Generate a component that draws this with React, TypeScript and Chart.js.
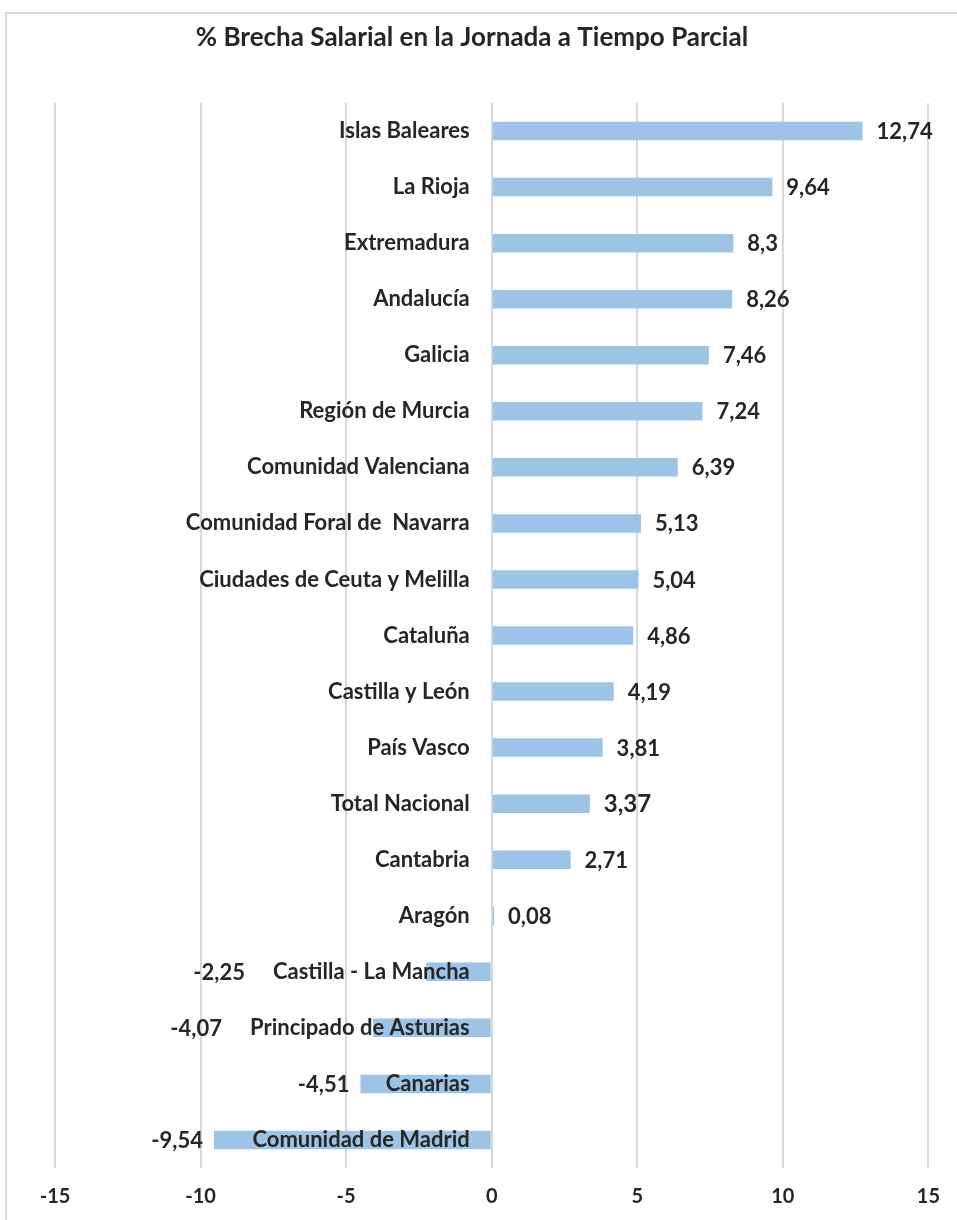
import React, { useEffect, useRef } from "react";
import { Chart, registerables } from "chart.js";

Chart.register(...registerables);

const TITLE = "% Brecha Salarial en la Jornada a Tiempo Parcial";
const categories = [
  "Islas Baleares",
  "La Rioja",
  "Extremadura",
  "Andalucía",
  "Galicia",
  "Región de Murcia",
  "Comunidad Valenciana",
  "Comunidad Foral de  Navarra",
  "Ciudades de Ceuta y Melilla",
  "Cataluña",
  "Castilla y León",
  "País Vasco",
  "Total Nacional",
  "Cantabria",
  "Aragón",
  "Castilla - La Mancha",
  "Principado de Asturias",
  "Canarias",
  "Comunidad de Madrid",
];
const values = [12.74, 9.64, 8.3, 8.26, 7.46, 7.24, 6.39, 5.13, 5.04, 4.86, 4.19, 3.81, 3.37, 2.71, 0.08, -2.25, -4.07, -4.51, -9.54];
const valueLabels = ["12,74", "9,64", "8,3", "8,26", "7,46", "7,24", "6,39", "5,13", "5,04", "4,86", "4,19", "3,81", "3,37", "2,71", "0,08", "-2,25", "-4,07", "-4,51", "-9,54"];
const xTicks = [-15, -10, -5, 0, 5, 10, 15];

const FONT = "Lato";
const TEXT = "#262626";

const labelPlugin = {
  id: "labelPlugin",
  beforeDraw(chart: any) {
    const ctx = chart.ctx;
    ctx.save();
    ctx.strokeStyle = "#d9d9d9";
    ctx.lineWidth = 2;
    ctx.strokeRect(6, 13, 1200, 1400);
    ctx.fillStyle = TEXT;
    ctx.font = `bold 26px ${FONT}`;
    ctx.textAlign = "center";
    ctx.textBaseline = "middle";
    ctx.fillText(TITLE, 472, 38);
    ctx.restore();
  },
  afterDatasetsDraw(chart: any) {
    const ctx = chart.ctx;
    const xs = chart.scales.x;
    const zero = xs.getPixelForValue(0);
    const meta = chart.getDatasetMeta(0);
    ctx.save();
    ctx.fillStyle = TEXT;
    ctx.textBaseline = "middle";
    meta.data.forEach((bar: any, i: number) => {
      const y = bar.y;
      ctx.font = `bold 22px ${FONT}`;
      ctx.textAlign = "right";
      const catRight = zero - 22;
      ctx.fillText(categories[i], catRight, y);
      const catLeft = catRight - ctx.measureText(categories[i]).width;
      const end = xs.getPixelForValue(values[i]);
      ctx.font = i === 12 ? `bold 24px ${FONT}` : `bold 22px ${FONT}`;
      if (values[i] >= 0) {
        ctx.textAlign = "left";
        ctx.fillText(valueLabels[i], end + 14, y + 1);
      } else {
        ctx.textAlign = "right";
        const x = Math.min(end - 11, catLeft - 28);
        ctx.fillText(valueLabels[i], x, y + 1);
      }
    });
    ctx.restore();
  },
};

export default function App() {
  const ref = useRef<HTMLCanvasElement | null>(null);
  useEffect(() => {
    if (!ref.current) return;
    const chart = new Chart(ref.current, {
      type: "bar",
      data: {
        labels: categories,
        datasets: [
          {
            data: values,
            backgroundColor: "#9dc3e6",
            borderWidth: 0,
            categoryPercentage: 1,
            barPercentage: 0.33,
          },
        ],
      },
      options: {
        indexAxis: "y",
        animation: false,
        responsive: false,
        events: [],
        layout: { padding: { left: 55, right: 27, top: 103, bottom: 12 } },
        plugins: { legend: { display: false }, title: { display: false }, tooltip: { enabled: false } },
        scales: {
          x: {
            min: -15,
            max: 15,
            afterBuildTicks: (axis: any) => {
              axis.ticks = xTicks.map((v) => ({ value: v }));
            },
            afterFit: (axis: any) => {
              axis.height = 40;
            },
            grid: { color: "#d9d9d9", lineWidth: 2, drawTicks: false },
            border: { display: false },
            ticks: {
              padding: 17,
              color: TEXT,
              font: { family: FONT, size: 20, weight: "bold" },
              callback: (v: any) => String(v),
            },
          },
          y: { display: false },
        },
      },
      plugins: [labelPlugin],
    });
    return () => chart.destroy();
  }, []);
  return (
    <div style={{ position: "fixed", left: 0, top: 0, width: 957, height: 1220, background: "#fff" }}>
      <canvas ref={ref} width={957} height={1220} style={{ width: 957, height: 1220 }} />
    </div>
  );
}
